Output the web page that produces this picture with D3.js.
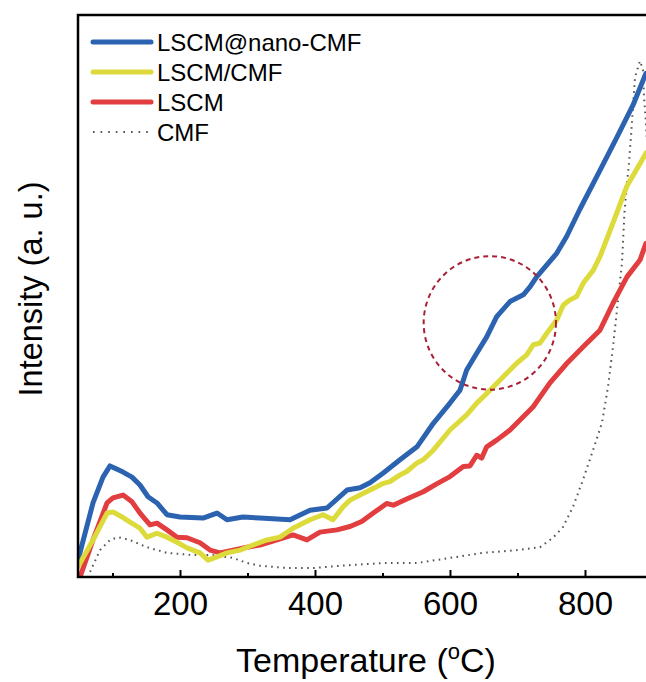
<!DOCTYPE html>
<html>
<head>
<meta charset="utf-8">
<script src="https://cdn.jsdelivr.net/npm/d3@7"></script>
<style>
  html, body { margin: 0; padding: 0; background: #fff; }
  svg { display: block; }
  text { font-family: "Liberation Sans", Arial, sans-serif; fill: #000; }
</style>
</head>
<body>
<svg id="chart" width="646" height="682"></svg>
<script>
// ---- data (temperature in °C, intensity in arbitrary units 0..100) ----
const seriesNames = ["LSCM@nano-CMF", "LSCM/CMF", "LSCM", "CMF"];
const seriesColors = ["#2b63b1", "#dcdb3b", "#e23d3f", "#555555"];

const blueT = [48.9, 71.1, 85.9, 96.3, 103.7, 115.6, 128.9, 140.7, 152.6, 165.9, 180.7, 200, 234.1, 254.8, 269.6, 293.3, 318.5, 363, 392.6, 417.8, 447.4, 466.7, 481.5, 500.7, 525.9, 551.1, 575.3, 600, 614.8, 624.7, 639.6, 654.4, 669.2, 688.9, 708.6, 718.5, 728.4, 743.2, 758.1, 772.8, 792.6, 822.2, 847.4, 871.1, 890.4];
const blueV = [3.0, 13.2, 17.8, 19.8, 19.4, 18.7, 17.8, 16.4, 14.3, 13.2, 11.1, 10.7, 10.5, 11.4, 10.2, 10.7, 10.5, 10.2, 11.9, 12.3, 15.5, 15.9, 16.8, 18.5, 20.9, 23.2, 27.4, 31.0, 33.3, 36.9, 39.9, 42.8, 46.4, 49.1, 50.3, 51.7, 53.5, 55.6, 57.7, 60.7, 65.6, 72.5, 78.4, 84.1, 89.8];

const yellowT = [48.9, 71.1, 91.9, 100.7, 114.1, 125.9, 140.7, 151.1, 165.9, 180.7, 195.6, 210.4, 229.6, 241.5, 254.8, 269.6, 288.9, 308.1, 328.9, 348.1, 367.4, 392.6, 411.9, 426.7, 441.5, 451.9, 466.7, 481.5, 491.4, 501.2, 511.1, 525.9, 535.9, 550.7, 560.4, 575.3, 600, 624.7, 639.6, 654.4, 669.2, 684, 698.8, 713.6, 723.4, 733.3, 743.2, 758.1, 767.9, 777.8, 787.7, 797.5, 812.3, 822.2, 841.5, 862.2, 885.9, 890.4];
const yellowV = [1.8, 6.6, 11.4, 11.6, 10.7, 9.8, 8.7, 7.1, 7.8, 7.1, 6.2, 5.2, 4.3, 3.0, 3.6, 4.3, 4.8, 5.7, 6.6, 7.1, 8.7, 10.2, 11.1, 10.2, 12.5, 13.7, 14.6, 15.5, 16.1, 16.7, 17.0, 18.2, 18.8, 20.3, 20.9, 22.6, 26.2, 28.9, 31.0, 32.7, 34.5, 36.3, 38.1, 39.6, 41.4, 41.7, 43.4, 45.8, 48.5, 49.4, 50.0, 52.4, 54.7, 57.1, 63.1, 69.7, 74.6, 75.6];

const redT = [51.9, 71.1, 91.9, 100.7, 115.6, 128.9, 140.7, 155.6, 165.9, 180.7, 195.6, 210.4, 229.6, 244.4, 259.3, 278.5, 299.3, 318.5, 343.7, 367.4, 388.1, 407.4, 432.6, 451.9, 469.2, 486.4, 506.2, 516, 535.9, 560.4, 580.3, 600, 619.7, 629.6, 639.6, 647, 654.4, 669.2, 688.9, 723, 748.1, 773.3, 797, 822.2, 841.5, 862.2, 881.5, 890.4];
const redV = [0, 6.6, 13.2, 14.1, 14.6, 13.4, 11.4, 9.3, 9.6, 8.4, 7.1, 7.0, 6.1, 4.8, 4.3, 4.8, 5.3, 5.7, 6.6, 7.5, 6.6, 8.0, 8.4, 9.0, 9.9, 11.4, 13.1, 12.8, 13.9, 15.2, 16.6, 17.9, 19.7, 19.8, 21.7, 21.2, 23.2, 24.4, 26.2, 30.3, 34.6, 38.1, 41.0, 44.0, 48.8, 53.5, 56.5, 59.5];

const cmfT = [66.7, 81.5, 96.3, 108.1, 125.9, 151.1, 180.7, 219.3, 248.9, 278.5, 299.3, 318.5, 358.5, 397, 437, 500.7, 551.1, 600, 648.9, 699.3, 733.3, 752.6, 767.4, 782.2, 797, 811.9, 825.2, 834.1, 841.5, 847.4, 854.8, 858.5, 862.2, 865.2, 868.1, 871.1, 874.1, 881.5, 885.9, 887.4, 890.4, 893.3];
const cmfV = [0.9, 4.8, 6.6, 7.1, 6.6, 5.3, 4.3, 3.9, 3.9, 3.4, 2.5, 2.0, 1.6, 1.6, 2.0, 2.5, 2.5, 3.4, 4.3, 4.8, 5.3, 7.0, 8.9, 12.5, 17.3, 22.6, 27.5, 33.9, 41.0, 47.6, 56.0, 64.9, 70.2, 73.8, 78.4, 83.8, 89.1, 92.0, 90.4, 85.6, 80.9, 74.3];

const majorTicks = [200, 400, 600, 800];
const minorTicks = [100, 300, 500, 700];
const xTitle = "Temperature (";
const yTitle = "Intensity (a. u.)";
// highlighted region (dashed circle), in data units
const highlight = { t: 659, v: 45.3, rT: 98, rV: 11.9 };

// ---- layout ----
const svg = d3.select("#chart");
const L = 78, R = 646, T = 15, B = 577;

const x = d3.scaleLinear().domain([47.4, 890.4]).range([77, 646]);
const y = d3.scaleLinear().domain([0, 100]).range([B, 16]);

svg.append("defs").append("clipPath").attr("id", "clip")
  .append("rect").attr("x", L).attr("y", T).attr("width", R - L + 10).attr("height", B - T);

const series = [
  { name: seriesNames[3], color: seriesColors[3], t: cmfT, v: cmfV, dotted: true },
  { name: seriesNames[2], color: seriesColors[2], t: redT, v: redV },
  { name: seriesNames[0], color: seriesColors[0], t: blueT, v: blueV },
  { name: seriesNames[1], color: seriesColors[1], t: yellowT, v: yellowV }
];

const line = d3.line().x(d => x(d[0])).y(d => y(d[1])).curve(d3.curveLinear);
const plot = svg.append("g").attr("clip-path", "url(#clip)");

series.forEach(s => {
  const pts = s.t.map((t, i) => [t, s.v[i]]);
  const p = plot.append("path").datum(pts)
    .attr("d", line)
    .attr("fill", "none")
    .attr("stroke", s.color);
  if (s.dotted) {
    p.attr("stroke-width", 2).attr("stroke-dasharray", "1.6,4.4");
  } else {
    p.attr("stroke-width", 5).attr("stroke-linejoin", "round").attr("stroke-linecap", "round");
  }
});

// dashed highlight circle
svg.append("ellipse")
  .attr("cx", x(highlight.t)).attr("cy", y(highlight.v))
  .attr("rx", x(highlight.t + highlight.rT) - x(highlight.t))
  .attr("ry", y(highlight.v - highlight.rV) - y(highlight.v))
  .attr("fill", "none").attr("stroke", "#a91f38").attr("stroke-width", 2)
  .attr("stroke-dasharray", "5,4");

// frame
svg.append("path")
  .attr("d", `M${R + 2},${T} H${L} V${B} H${R + 2}`)
  .attr("fill", "none").attr("stroke", "#000").attr("stroke-width", 2.5);

// axes
const xAxis = svg.append("g").attr("transform", `translate(0,${B})`)
  .call(d3.axisBottom(x).tickValues(majorTicks).tickSize(-7).tickSizeOuter(0).tickPadding(15).tickFormat(d3.format("d")));
xAxis.select(".domain").remove();
xAxis.selectAll(".tick line").attr("stroke", "#000").attr("stroke-width", 2);
xAxis.selectAll(".tick text").attr("font-size", 33).attr("font-family", "Liberation Sans, Arial, sans-serif").attr("fill", "#000");

const xMinor = svg.append("g").attr("transform", `translate(0,${B})`)
  .call(d3.axisBottom(x).tickValues(minorTicks).tickSize(-4).tickSizeOuter(0).tickFormat(""));
xMinor.select(".domain").remove();
xMinor.selectAll(".tick line").attr("stroke", "#000").attr("stroke-width", 2);

// axis titles
const xt = svg.append("text").attr("x", 366).attr("y", 672).attr("text-anchor", "middle")
  .attr("font-size", 34);
xt.append("tspan").text(xTitle);
xt.append("tspan").text("o").attr("font-size", 22).attr("dy", -13);
xt.append("tspan").text("C)").attr("dy", 13);

svg.append("text").attr("transform", "translate(42,289) rotate(-90)")
  .attr("text-anchor", "middle").attr("font-size", 32.5).text(yTitle);

// legend
const legendOrder = [0, 1, 2, 3];
const legendY = [42, 72, 102, 132];
const lg = svg.append("g");
legendOrder.forEach((si, i) => {
  const ly = legendY[i];
  const ln = lg.append("line").attr("x1", 93).attr("x2", 151).attr("y1", ly).attr("y2", ly)
    .attr("stroke", seriesColors[si]);
  if (si === 3) ln.attr("stroke-width", 2).attr("stroke-dasharray", "1.6,6");
  else ln.attr("stroke-width", 5).attr("stroke-linecap", "round");
  lg.append("text").attr("x", 157).attr("y", ly + 9).attr("font-size", 24).text(seriesNames[si]);
});
</script>
</body>
</html>
